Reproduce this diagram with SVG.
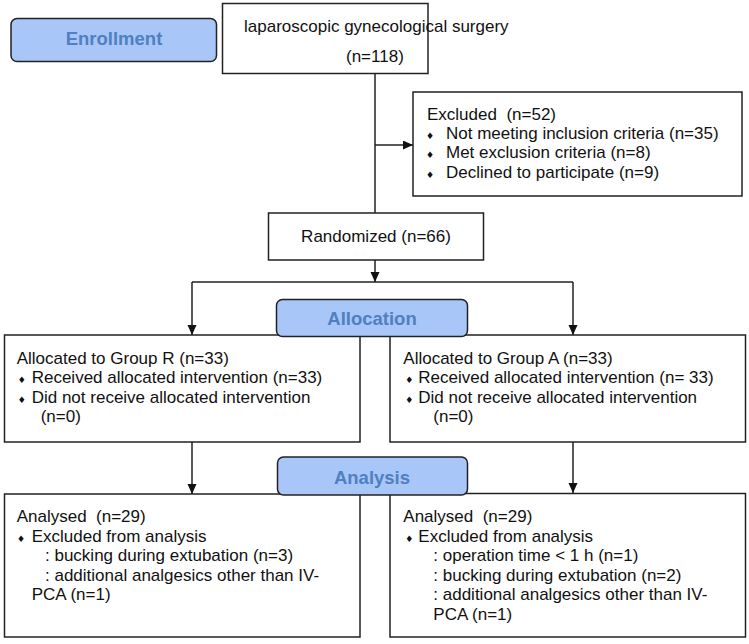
<svg xmlns="http://www.w3.org/2000/svg" width="749" height="644" viewBox="0 0 749 644">
<defs>
<marker id="arr" markerUnits="userSpaceOnUse" markerWidth="10" markerHeight="10" refX="10" refY="4.5" orient="auto">
<path d="M0,0 L10,4.5 L0,9 z" fill="#111"/>
</marker>
<style>
.box{fill:#fff;stroke:#222;stroke-width:1.5}
.stage{fill:#a8c6f8;stroke:#222;stroke-width:1.5}
.st{font-family:"Liberation Sans",Arial,sans-serif;font-weight:bold;font-size:18.5px;fill:#4f80bf;text-anchor:middle}
.t{font-family:"Liberation Sans",Arial,sans-serif;font-size:17px;fill:#111;white-space:pre}
.b{font-family:"DejaVu Sans",sans-serif;font-size:9px;fill:#111;text-anchor:middle}
.c{fill:none;stroke:#222;stroke-width:1.5}
</style>
</defs>
<rect width="749" height="644" fill="#fff"/>
<g id="connectors">
<line class="c" x1="375" y1="73" x2="375" y2="213"/>
<line class="c" x1="375" y1="145" x2="413" y2="145" marker-end="url(#arr)"/>
<line class="c" x1="375" y1="260" x2="375" y2="282" marker-end="url(#arr)"/>
<line class="c" x1="192" y1="282" x2="573" y2="282"/>
<line class="c" x1="192" y1="282" x2="192" y2="335" marker-end="url(#arr)"/>
<line class="c" x1="573" y1="282" x2="573" y2="335" marker-end="url(#arr)"/>
<line class="c" x1="192" y1="442" x2="192" y2="494" marker-end="url(#arr)"/>
<line class="c" x1="573" y1="442" x2="573" y2="493" marker-end="url(#arr)"/>
</g>
<g id="enrollment">
<rect class="stage" x="11" y="18.5" width="205.5" height="43" rx="6"/>
<text class="st" x="114" y="45">Enrollment</text>
</g>
<g id="surgery">
<rect class="box" x="222.5" y="3.5" width="205.5" height="70"/>
<text class="t" x="244" y="31.5">laparoscopic gynecological surgery</text>
<text class="t" x="346" y="62">(n=118)</text>
</g>
<g id="excluded">
<rect class="box" x="413" y="92" width="329" height="104"/>
<text class="t" x="427" y="119.5">Excluded  (n=52)</text>
<text class="b" x="430" y="139">♦</text><text class="t" x="446" y="139">Not meeting inclusion criteria (n=35)</text>
<text class="b" x="430" y="158">♦</text><text class="t" x="446" y="158">Met exclusion criteria (n=8)</text>
<text class="b" x="430" y="177.5">♦</text><text class="t" x="446" y="177.5">Declined to participate (n=9)</text>
</g>
<g id="randomized">
<rect class="box" x="268.5" y="213" width="215" height="47"/>
<text class="t" x="376" y="242" text-anchor="middle">Randomized (n=66)</text>
</g>
<g id="groupR">
<rect class="box" x="4.5" y="335" width="355.5" height="107"/>
<text class="t" x="16.7" y="364">Allocated to Group R (n=33)</text>
<text class="b" x="21.7" y="383.3">♦</text><text class="t" x="31.7" y="383.3">Received allocated intervention (n=33)</text>
<text class="b" x="21.7" y="402.6">♦</text><text class="t" x="31.7" y="402.6">Did not receive allocated intervention</text>
<text class="t" x="40.7" y="421.5">(n=0)</text>
</g>
<g id="groupA">
<rect class="box" x="390" y="335" width="355.5" height="107"/>
<text class="t" x="403.3" y="364">Allocated to Group A (n=33)</text>
<text class="b" x="409.3" y="383.3">♦</text><text class="t" x="418.3" y="383.3">Received allocated intervention (n= 33)</text>
<text class="b" x="409.3" y="402.6">♦</text><text class="t" x="418.3" y="402.6">Did not receive allocated intervention</text>
<text class="t" x="433.3" y="421.5">(n=0)</text>
</g>
<g id="allocation">
<rect class="stage" x="276.5" y="299.5" width="191" height="37" rx="6"/>
<text class="st" x="372" y="325">Allocation</text>
</g>
<g id="analysisR">
<rect class="box" x="4.5" y="494" width="355.5" height="143"/>
<text class="t" x="16.7" y="521.7">Analysed  (n=29)</text>
<text class="b" x="21" y="541.5">♦</text><text class="t" x="31.7" y="541.5">Excluded from analysis</text>
<text class="t" x="45" y="561">: bucking during extubation (n=3)</text>
<text class="t" x="45" y="580.5">: additional analgesics other than IV-</text>
<text class="t" x="31.7" y="600">PCA (n=1)</text>
</g>
<g id="analysisA">
<rect class="box" x="390" y="493.5" width="355.5" height="143.5"/>
<text class="t" x="403.3" y="521.7">Analysed  (n=29)</text>
<text class="b" x="409.3" y="541.5">♦</text><text class="t" x="418.3" y="541.5">Excluded from analysis</text>
<text class="t" x="433.3" y="561">: operation time &lt; 1 h (n=1)</text>
<text class="t" x="433.3" y="580.5">: bucking during extubation (n=2)</text>
<text class="t" x="433.3" y="600">: additional analgesics other than IV-</text>
<text class="t" x="433.3" y="619.5">PCA (n=1)</text>
</g>
<g id="analysis">
<rect class="stage" x="277.5" y="457" width="190" height="38" rx="6"/>
<text class="st" x="372" y="483.5">Analysis</text>
</g>
</svg>
